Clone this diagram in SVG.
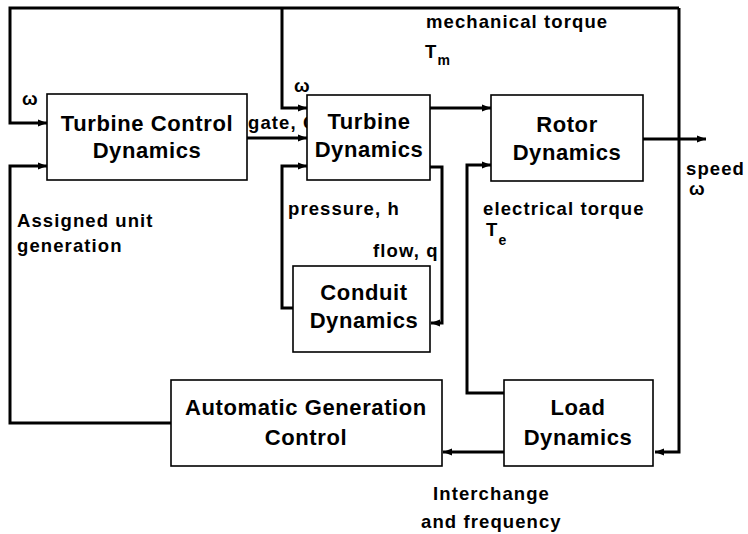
<svg xmlns="http://www.w3.org/2000/svg" width="748" height="534" viewBox="0 0 748 534">
<style>
.box{fill:#fff;stroke:#000;stroke-width:1.6}
.bt{font-family:"Liberation Sans",Arial,sans-serif;font-weight:bold;font-size:22px;letter-spacing:0.6px;text-anchor:middle;fill:#000}
.lb{font-family:"Liberation Sans",Arial,sans-serif;font-weight:bold;font-size:18.5px;letter-spacing:1.1px;fill:#000}
.sub{font-size:14px}
.c{fill:none;stroke:#000;stroke-width:3;stroke-linejoin:miter}
</style>
<defs>
<marker id="ah" markerUnits="userSpaceOnUse" markerWidth="10" markerHeight="8" refX="9" refY="4" orient="auto">
<path d="M0,0.5 L9,4 L0,7.5 z" fill="#000"/>
</marker>
</defs>
<g id="labels">
<text class="lb" x="248" y="129">gate, G</text>
</g>
<g id="connectors">
<path class="c" d="M679,8 L679,452 L655,452" marker-end="url(#ah)"/>
<path class="c" d="M679,8 L10,8 L10,123 L47,123" marker-end="url(#ah)"/>
<path class="c" d="M282,8 L282,108 L307,108" marker-end="url(#ah)"/>
<path class="c" d="M247,138 L307,138" marker-end="url(#ah)"/>
<path class="c" d="M171,423 L10,423 L10,166 L47,166" marker-end="url(#ah)"/>
<path class="c" d="M430,108 L491,108" marker-end="url(#ah)"/>
<path class="c" d="M643,139 L706,139" marker-end="url(#ah)"/>
<path class="c" d="M293,308 L282,308 L282,166 L307,166" marker-end="url(#ah)"/>
<path class="c" d="M430,167 L442,167 L442,323 L431,323" marker-end="url(#ah)"/>
<path class="c" d="M504,393 L467,393 L467,165 L491,165" marker-end="url(#ah)"/>
<path class="c" d="M504,452 L443,452" marker-end="url(#ah)"/>
</g>
<g id="tcd">
<rect class="box" x="47" y="94" width="200" height="86"/>
<text class="bt" x="147" y="131">Turbine Control</text>
<text class="bt" x="147" y="158">Dynamics</text>
</g>
<g id="turbine">
<rect class="box" x="307" y="95" width="123" height="85"/>
<text class="bt" x="369" y="129">Turbine</text>
<text class="bt" x="369" y="157">Dynamics</text>
</g>
<g id="rotor">
<rect class="box" x="491" y="95" width="152" height="86"/>
<text class="bt" x="567" y="132">Rotor</text>
<text class="bt" x="567" y="160">Dynamics</text>
</g>
<g id="conduit">
<rect class="box" x="293" y="266" width="137" height="86"/>
<text class="bt" x="364" y="300">Conduit</text>
<text class="bt" x="364" y="328">Dynamics</text>
</g>
<g id="agc">
<rect class="box" x="171" y="380" width="271" height="86"/>
<text class="bt" x="306" y="415">Automatic Generation</text>
<text class="bt" x="306" y="445">Control</text>
</g>
<g id="load">
<rect class="box" x="504" y="380" width="149" height="86"/>
<text class="bt" x="578" y="415">Load</text>
<text class="bt" x="578" y="445">Dynamics</text>
</g>
<g id="text-labels">
<text class="lb" x="22" y="105">ω</text>
<text class="lb" x="294" y="92">ω</text>
<text class="lb" x="426" y="28">mechanical torque</text>
<text class="lb" x="425" y="58">T<tspan class="sub" dy="7">m</tspan></text>
<text class="lb" x="686" y="175">speed</text>
<text class="lb" x="689" y="195">ω</text>
<text class="lb" x="483" y="215">electrical torque</text>
<text class="lb" x="486" y="236">T<tspan class="sub" dy="9">e</tspan></text>
<text class="lb" x="17" y="227">Assigned unit</text>
<text class="lb" x="17" y="252">generation</text>
<text class="lb" x="288" y="215">pressure, h</text>
<text class="lb" x="373" y="257">flow, q</text>
<text class="lb" x="433" y="500">Interchange</text>
<text class="lb" x="421" y="528">and frequency</text>
</g>
</svg>
